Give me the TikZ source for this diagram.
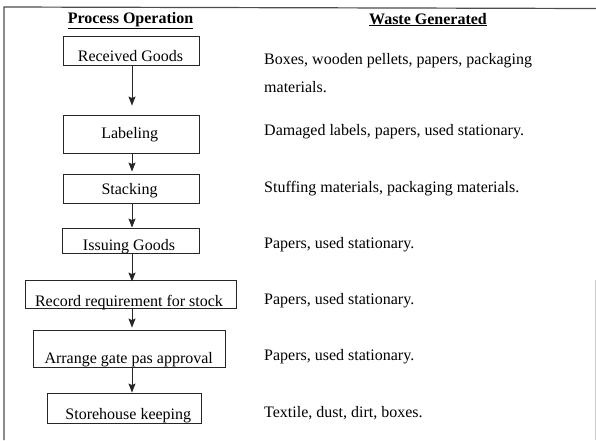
\documentclass[tikz,border=0pt]{standalone}
\usepackage{fontspec}
\setmainfont{Liberation Serif}
\usetikzlibrary{arrows.meta}
\begin{document}
\begin{tikzpicture}[x=1pt,y=-1pt,
  every node/.style={font=\fontsize{16}{19}\selectfont},
  procbox/.style={draw=black!85,line width=0.9pt,inner sep=0pt,rectangle},
  boxtext/.style={anchor=base,inner sep=0pt},
  waste/.style={anchor=base west,inner sep=0pt},
  head/.style={anchor=base,inner sep=0pt,font=\fontsize{16}{19}\selectfont\bfseries},
  arr/.style={draw=black!85,line width=0.9pt,-{Stealth[length=9pt,width=7pt,inset=1.5pt]}}]
\useasboundingbox (0,0) rectangle (596,440);
% frame
\draw[black!70,line width=1.2pt] (4,440) -- (4,7) -- (596,8.5);
\draw[black!20,line width=0.8pt] (595,280) -- (595,440);
% headers
\node[head] (h1) at (130.5,23) {\underline{Process Operation}};
\node[head] (h2) at (428,24) {\underline{Waste Generated}};
% boxes
\node[procbox,minimum width=136pt,minimum height=29pt] (b1) at (131,50.5) {};
\node[procbox,minimum width=136pt,minimum height=38pt] (b2) at (131,134) {};
\node[procbox,minimum width=136pt,minimum height=29pt] (b3) at (131,188.5) {};
\node[procbox,minimum width=137pt,minimum height=25pt] (b4) at (130.5,240.5) {};
\node[procbox,minimum width=211pt,minimum height=28pt] (b5) at (130.5,294) {};
\node[procbox,minimum width=192pt,minimum height=37pt] (b6) at (129,348.5) {};
\node[procbox,minimum width=154pt,minimum height=30pt] (b7) at (124,408) {};
% box texts
\node[boxtext] (t1) at (130.5,61) {Received Goods};
\node[boxtext] (t2) at (129.7,138) {Labeling};
\node[boxtext] (t3) at (129.5,194) {Stacking};
\node[boxtext] (t4) at (129,250) {Issuing Goods};
\node[boxtext] (t5) at (129,306.5) {Record requirement for stock};
\node[boxtext] (t6) at (128.7,363) {Arrange gate pas approval};
\node[boxtext] (t7) at (128.3,419) {Storehouse keeping};
% arrows
\coordinate (ax) at (132,0);
\draw[arr] (b1.south -| ax) -- ([yshift=9pt]b2.north -| ax);
\draw[arr] (b2.south -| ax) -- ([yshift=2pt]b3.north -| ax);
\draw[arr] (b3.south -| ax) -- (b4.north -| ax);
\draw[arr] (b4.south -| ax) -- ([yshift=-2pt]b5.north -| ax);
\draw[arr] (b5.south -| ax) -- ([yshift=2pt]b6.north -| ax);
\draw[arr] (b6.south -| ax) -- (b7.north -| ax);
% waste texts
\node[waste] (w1) at (264,64) {Boxes, wooden pellets, papers, packaging};
\node[waste] (w1b) at (264,92) {materials.};
\node[waste] (w2) at (264,135) {Damaged labels, papers, used stationary.};
\node[waste] (w3) at (264,192) {Stuffing materials, packaging materials.};
\node[waste] (w4) at (264,248) {Papers, used stationary.};
\node[waste] (w5) at (264,304) {Papers, used stationary.};
\node[waste] (w6) at (264,360) {Papers, used stationary.};
\node[waste] (w7) at (264,417) {Textile, dust, dirt, boxes.};
\end{tikzpicture}
\end{document}
